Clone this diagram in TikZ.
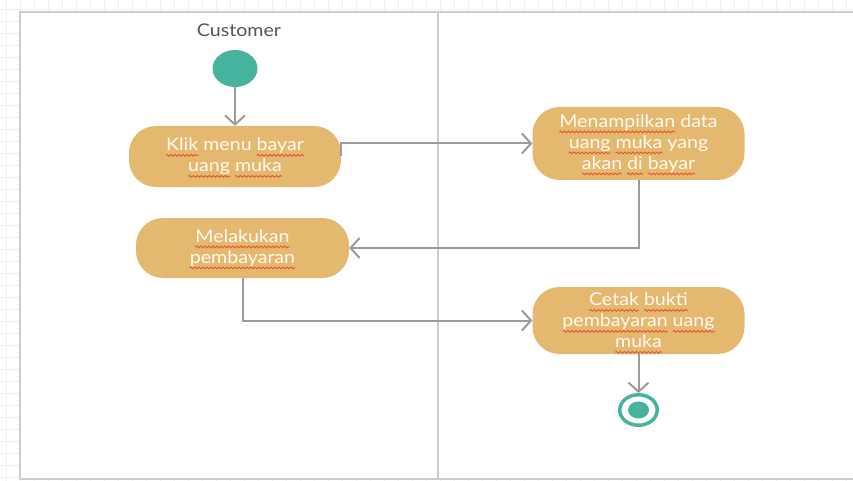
\documentclass[tikz,border=0pt]{standalone}
\usepackage{fontspec}
\setmainfont{Lato}[FakeStretch=1.12]
\usetikzlibrary{arrows.meta,shapes.geometric,decorations.pathmorphing}

\definecolor{boxfill}{HTML}{E5B86F}
\definecolor{nodeteal}{HTML}{45B39D}
\definecolor{flowgray}{HTML}{9B9B9B}
\definecolor{lanegray}{HTML}{CCCCCC}
\definecolor{gridgray}{HTML}{EFEFEF}
\definecolor{labelgray}{HTML}{555555}
\definecolor{spellred}{HTML}{E4572E}
\definecolor{boxtext}{HTML}{FFFAF2}

% a word with a wavy spell-check underline
\newcommand\spellword[1]{\tikz[baseline=(sw.base), x=1cm, y=1cm]{%
  \node[shape=rectangle, draw=none, fill=none, inner sep=0pt, outer sep=0pt,
    minimum width=0pt, minimum height=0pt, rounded corners=0pt, text=boxtext,
    anchor=base] (sw) at (0,0) {#1};
  \draw[overlay, spellred, line width=0.9pt, sharp corners, decorate,
    decoration={snake, amplitude=0.9pt, segment length=4pt}]
    ([yshift=-4.5pt]sw.base west) -- ([yshift=-4.5pt]sw.base east);}}

\tikzset{
  activity/.style={fill=boxfill, rounded corners=27pt, minimum width=212pt,
    minimum height=61pt, text=boxtext, align=center, inner sep=0pt,
    font=\fontsize{17.5}{21}\selectfont},
  flow/.style={draw=flowgray, line width=2pt,
    -{Straight Barb[length=9pt,width=20pt,line width=2pt]}},
  lane/.style={draw=lanegray, line width=2.5pt},
  gridline/.style={draw=gridgray, line width=0.6pt}
}

\begin{document}
\begin{tikzpicture}[x=1pt,y=-1pt]
  \useasboundingbox (0,0) rectangle (853,481);
  \fill[white] (0,0) rectangle (853,481);

  % background grid
  \foreach \gx in {6,20,...,853} \draw[gridline] (\gx,0) -- (\gx,481);
  \foreach \gy in {9,21,...,481} \draw[gridline] (0,\gy) -- (853,\gy);

  % swimlanes
  \fill[white] (20,12) rectangle (853,479);
  \draw[lane] (853,12) -- (20,12) -- (20,479) -- (853,479);
  \draw[lane] (438,12) -- (438,479);

  \node[text=labelgray, font=\fontsize{17.5}{20}\selectfont] (lanetitle) at (239,30) {Customer};

  % activities
  \node[draw=none, fill=nodeteal, ellipse, minimum width=45pt, minimum height=37pt, inner sep=0pt] (start) at (235,68.5) {};

  \node[activity] (klik) at (235,156.5)
    {\spellword{Klik} menu \spellword{bayar}\\\spellword{uang} \spellword{muka}};
  \node[activity, minimum height=73pt] (tampil) at (638.5,143.5)
    {\spellword{Menampilkan} data\\\spellword{uang} \spellword{muka} yang\\\spellword{akan} \spellword{di} \spellword{bayar}};
  \node[activity, minimum width=213pt, minimum height=60pt] (bayar) at (242.5,248)
    {\spellword{Melakukan}\\\spellword{pembayaran}};
  \node[activity, minimum height=67pt] (cetak) at (638.5,320.5)
    {\spellword{Cetak} \spellword{bukti}\\\spellword{pembayaran} \spellword{uang}\\\spellword{muka}};

  \node[draw=nodeteal, line width=3.5pt, ellipse, minimum width=37.5pt, minimum height=30.5pt, inner sep=0pt] (end) at (638.5,410) {};
  \node[fill=nodeteal, ellipse, minimum width=21pt, minimum height=17pt, inner sep=0pt] (enddot) at (end.center) {};

  % control flow
  \draw[flow] (start.south) -- (klik.north);
  \draw[flow] (klik.east) |- (tampil.west);
  \draw[flow] (tampil.south) |- (bayar.east);
  \draw[flow] (bayar.south) |- (cetak.west);
  \draw[flow] (cetak.south) -- (end.north);
\end{tikzpicture}
\end{document}
